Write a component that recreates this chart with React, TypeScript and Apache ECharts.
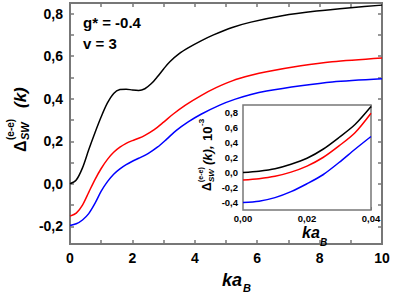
import React, { useEffect, useRef } from "react";
import * as echarts from "echarts";

// Main panel data (ka_B, Delta_SW^(e-e)(k))
const blackX = [0, 0.2, 0.4, 0.6, 0.8, 1.0, 1.2, 1.4, 1.6, 1.8, 2.0, 2.2, 2.4, 2.6, 2.8, 3.0, 3.2, 3.5, 3.8, 4.2, 4.6, 5.2, 5.8, 6.8, 7.9, 9.0, 10];
const mainBlack = [0.0, 0.018, 0.075, 0.16, 0.24, 0.315, 0.38, 0.425, 0.443, 0.445, 0.441, 0.439, 0.447, 0.47, 0.503, 0.54, 0.574, 0.612, 0.64, 0.672, 0.7, 0.735, 0.76, 0.79, 0.812, 0.828, 0.84];

const redX = [0, 0.2, 0.4, 0.6, 0.8, 1.0, 1.2, 1.4, 1.6, 1.8, 2.0, 2.2, 2.4, 2.7, 3.0, 3.3, 3.7, 4.2, 4.7, 5.2, 5.8, 6.3, 7.4, 8.4, 10];
const mainRed = [-0.152, -0.138, -0.1, -0.04, 0.02, 0.072, 0.115, 0.148, 0.172, 0.19, 0.203, 0.214, 0.228, 0.255, 0.29, 0.327, 0.37, 0.415, 0.453, 0.484, 0.51, 0.527, 0.555, 0.574, 0.592];

const blueX = [0, 0.2, 0.4, 0.6, 0.8, 1.0, 1.2, 1.4, 1.6, 1.8, 2.0, 2.2, 2.5, 2.8, 3.1, 3.4, 3.8, 4.2, 4.8, 5.3, 5.8, 6.3, 7.4, 8.4, 10];
const mainBlue = [-0.196, -0.188, -0.17, -0.14, -0.092, -0.035, 0.01, 0.045, 0.07, 0.09, 0.106, 0.12, 0.142, 0.172, 0.21, 0.25, 0.292, 0.327, 0.37, 0.398, 0.42, 0.436, 0.461, 0.479, 0.494];

// Inset data (ka_B, 10^-3 units)
const insetX = [0, 0.005, 0.01, 0.015, 0.02, 0.025, 0.03, 0.035, 0.04];
const insetBlack = [0.0, 0.018, 0.05, 0.11, 0.19, 0.31, 0.467, 0.64, 0.88];
const insetRed = [-0.1, -0.082, -0.05, 0.005, 0.085, 0.2, 0.355, 0.53, 0.79];
const insetBlue = [-0.4, -0.382, -0.335, -0.255, -0.15, -0.03, 0.133, 0.31, 0.48];

// Ticks and labels
const mainXLabels = [0, 2, 4, 6, 8, 10];
const mainXTicks = [0, 1, 2, 3, 4, 5, 6, 7, 8, 9, 10];
const mainYLabels = [-0.2, 0, 0.2, 0.4, 0.6, 0.8];
const mainYTicks = [-0.2, -0.1, 0, 0.1, 0.2, 0.3, 0.4, 0.5, 0.6, 0.7, 0.8];
const insetXLabels = [0, 0.02, 0.04];
const insetXTicks = [0, 0.01, 0.02, 0.03, 0.04];
const insetYLabels = [-0.4, -0.2, 0, 0.2, 0.4, 0.6, 0.8];
const insetYTicks = [-0.4, -0.3, -0.2, -0.1, 0, 0.1, 0.2, 0.3, 0.4, 0.5, 0.6, 0.7, 0.8];

const FONT = '"Liberation Sans", Arial, sans-serif';
const FRAME = "#777";

const zip = (xs: number[], ys: number[]) => xs.map((x, i) => [x, ys[i]]);
const comma = (d: number) => (v: number) => Number(v).toFixed(d).replace(".", ",");

export default function App() {
  const ref = useRef<HTMLDivElement>(null);
  useEffect(() => {
    document.body.style.margin = "0";
    const chart = echarts.init(ref.current!, null, { renderer: "svg" });
    const tickStyle = { show: true, inside: true, length: 4, lineStyle: { color: FRAME, width: 1.5 } };
    const insetTick = { show: true, inside: true, length: 3, lineStyle: { color: FRAME, width: 1 } };
    const noLine = { show: false, onZero: false };
    const mainLbl = { fontFamily: FONT, fontWeight: "bold", fontSize: 14, color: "#000" };
    const insetLbl = { fontFamily: FONT, fontWeight: "bold", fontSize: 9.5, color: "#000" };
    const t = (text: string, x: number, y: number, size: number, italic = false) => ({
      type: "text",
      x,
      y,
      style: {
        text,
        fill: "#000",
        font: `${italic ? "italic " : ""}bold ${size}px ${FONT}`,
        textAlign: "left",
        textVerticalAlign: "middle",
      },
    });
    const line = (xi: number, yi: number, data: number[][], color: string, z = 2) => ({
      type: "line", xAxisIndex: xi, yAxisIndex: yi, data, smooth: 0.3,
      showSymbol: false, z, lineStyle: { color, width: 1.5 },
    });
    chart.setOption({
      animation: false,
      grid: [
        { left: 70, top: 3, width: 312, height: 241, show: true, borderColor: FRAME, borderWidth: 2, backgroundColor: "transparent" },
        { left: 243, top: 105, width: 128, height: 105, show: true, borderColor: FRAME, borderWidth: 1.5, backgroundColor: "#fff", z: 3 },
      ],
      xAxis: [
        {
          gridIndex: 0, type: "value", min: 0, max: 10, position: "bottom",
          axisLine: noLine, splitLine: { show: false },
          axisTick: { ...tickStyle, customValues: mainXTicks },
          axisLabel: { ...mainLbl, margin: 7, customValues: mainXLabels, formatter: (v: number) => String(v) },
        },
        {
          gridIndex: 0, type: "value", min: 0, max: 10, position: "top",
          axisLine: noLine, splitLine: { show: false },
          axisTick: { ...tickStyle, customValues: mainXTicks },
          axisLabel: { show: false },
        },
        {
          gridIndex: 1, type: "value", min: 0, max: 0.04, position: "bottom",
          axisLine: noLine, splitLine: { show: false },
          axisTick: { ...insetTick, customValues: insetXTicks },
          axisLabel: { ...insetLbl, margin: 3, customValues: insetXLabels, formatter: comma(2) },
        },
        {
          gridIndex: 1, type: "value", min: 0, max: 0.04, position: "top",
          axisLine: noLine, splitLine: { show: false },
          axisTick: { ...insetTick, customValues: insetXTicks },
          axisLabel: { show: false },
        },
      ],
      yAxis: [
        {
          gridIndex: 0, type: "value", min: -0.283, max: 0.85, position: "left",
          axisLine: noLine, splitLine: { show: false },
          axisTick: { ...tickStyle, customValues: mainYTicks },
          axisLabel: { ...mainLbl, margin: 7, customValues: mainYLabels, formatter: comma(1) },
        },
        {
          gridIndex: 0, type: "value", min: -0.283, max: 0.85, position: "right",
          axisLine: noLine, splitLine: { show: false },
          axisTick: { ...tickStyle, customValues: mainYTicks },
          axisLabel: { show: false },
        },
        {
          gridIndex: 1, type: "value", min: -0.5, max: 0.9, position: "left",
          axisLine: noLine, splitLine: { show: false },
          axisTick: { ...insetTick, customValues: insetYTicks },
          axisLabel: { ...insetLbl, margin: 5, customValues: insetYLabels, formatter: comma(1) },
        },
      ],
      series: [
        line(0, 0, zip(blackX, mainBlack), "#000"),
        line(0, 0, zip(redX, mainRed), "#ff0000"),
        line(0, 0, zip(blueX, mainBlue), "#0000ff"),
        line(2, 2, zip(insetX, insetBlack), "#000", 5),
        line(2, 2, zip(insetX, insetRed), "#ff0000", 5),
        line(2, 2, zip(insetX, insetBlue), "#0000ff", 5),
      ],
      graphic: [
        t("g* = -0.4", 83, 22, 15),
        t("v = 3", 83, 43, 15),
        // main x-axis name
        t("ka", 222, 280, 18, true),
        t("B", 243, 288, 11, true),
        // inset x-axis name
        t("ka", 302, 232, 16, true),
        t("B", 320, 242, 10, true),
        // main y-axis name (rotated)
        {
          type: "group", x: 20, y: 152, rotation: Math.PI / 2,
          children: [
            t("Δ", 0, 0, 16),
            t("(e-e)", 12, -10, 10),
            t("SW", 12, 5, 11, true),
            t("(k)", 44, 0, 17, true),
          ],
        },
        // inset y-axis name (rotated)
        {
          type: "group", x: 207, y: 191, rotation: Math.PI / 2,
          children: [
            t("Δ", 0, 0, 12),
            t("(e-e)", 9, -7, 7),
            t("SW", 9, 4, 8, true),
            t("(k),", 26, 0, 13, true),
            t("10", 50, 0, 13),
            t("-3", 65, -6, 8),
          ],
        },
      ],
    });
    return () => chart.dispose();
  }, []);
  return <div ref={ref} style={{ width: 395, height: 296 }} />;
}
